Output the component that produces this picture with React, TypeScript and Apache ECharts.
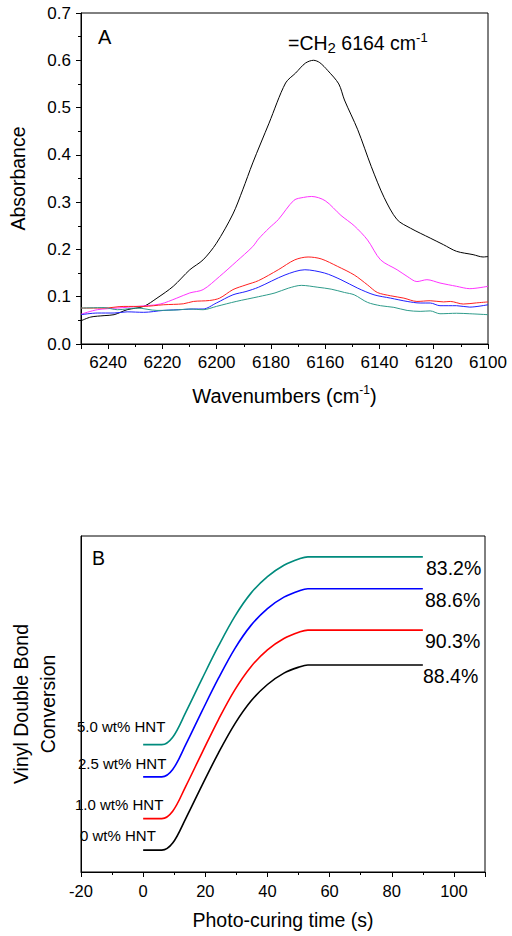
import React, { useEffect, useRef } from "react";
import * as echarts from "echarts";

// ---------- Panel A: absorbance spectra [wavenumber, absorbance] ----------
const specBlack: [number, number][] = [
  [6100, 0.185], [6101.8, 0.184], [6105.5, 0.189], [6111.6, 0.196], [6116.4, 0.21], [6121.3, 0.224],
  [6128.6, 0.245], [6133.5, 0.263], [6138.3, 0.31], [6143, 0.375], [6148, 0.453], [6152.9, 0.516],
  [6155, 0.55], [6159, 0.578], [6162, 0.595], [6164.3, 0.6], [6167.3, 0.594], [6170.9, 0.573],
  [6174.6, 0.552], [6180.7, 0.467], [6186.7, 0.383], [6190.4, 0.326], [6194, 0.275], [6200.1, 0.213],
  [6205, 0.178], [6209.9, 0.157], [6216, 0.122], [6222, 0.097], [6226.9, 0.0795], [6233, 0.0725],
  [6237.8, 0.062], [6241.5, 0.06], [6246.4, 0.057], [6250, 0.049],
];
const specMagenta: [number, number][] = [
  [6100, 0.122], [6106.7, 0.117], [6111.6, 0.122], [6117.7, 0.129], [6122.5, 0.136], [6126.2, 0.132],
  [6129.8, 0.143], [6133.5, 0.157], [6139.6, 0.178], [6144.4, 0.22], [6149.3, 0.25], [6154.2, 0.272],
  [6160, 0.303], [6165, 0.312], [6168, 0.31], [6171.5, 0.304], [6177.3, 0.263], [6180.7, 0.245],
  [6184.6, 0.222], [6186.7, 0.206], [6192.8, 0.174], [6198.9, 0.143], [6205, 0.115], [6209.9, 0.108],
  [6214.7, 0.097], [6220.8, 0.0845], [6229.3, 0.0795], [6236.6, 0.076], [6244, 0.0725], [6250, 0.063],
];
const specRed: [number, number][] = [
  [6100, 0.089], [6104.2, 0.087], [6109.1, 0.0845], [6113.9, 0.09], [6116.4, 0.089], [6121.3, 0.0915],
  [6126.2, 0.09], [6131, 0.097], [6135.9, 0.102], [6140.8, 0.109], [6144.4, 0.125], [6149.3, 0.146],
  [6155.4, 0.164], [6161.5, 0.18], [6166.3, 0.184], [6171.2, 0.178], [6177.3, 0.157], [6184.6, 0.134],
  [6189.2, 0.125], [6194, 0.115], [6198.9, 0.097], [6202.6, 0.092], [6208.6, 0.09], [6212.3, 0.085],
  [6219.6, 0.083], [6226.9, 0.0795], [6234.2, 0.0795], [6241.5, 0.076], [6250, 0.076],
];
const specBlue: [number, number][] = [
  [6100, 0.083], [6106.7, 0.078], [6111.6, 0.081], [6117.7, 0.081], [6121.3, 0.0867], [6125, 0.0867],
  [6129.8, 0.09], [6135.9, 0.097], [6142, 0.104], [6148, 0.118], [6154.2, 0.136], [6160.2, 0.15],
  [6167.5, 0.157], [6174.8, 0.146], [6184.6, 0.12], [6189.2, 0.111], [6194, 0.104], [6200.1, 0.0867],
  [6205, 0.074], [6208.6, 0.074], [6212.3, 0.073], [6219.6, 0.071], [6226.9, 0.067], [6233, 0.068],
  [6237.8, 0.0655], [6244, 0.0655], [6250, 0.062],
];
const specTeal: [number, number][] = [
  [6100, 0.062], [6106.7, 0.064], [6111.6, 0.065], [6117.7, 0.064], [6121.3, 0.07], [6125, 0.069],
  [6129.8, 0.071], [6134.7, 0.0775], [6139.6, 0.081], [6144.4, 0.088], [6149.3, 0.104], [6152.9, 0.109],
  [6157.8, 0.116], [6162.7, 0.12], [6168.8, 0.124], [6173.6, 0.118], [6178.5, 0.108], [6184.6, 0.1],
  [6192.8, 0.09], [6200.1, 0.0795], [6205, 0.0725], [6209.9, 0.074], [6214.7, 0.072], [6222, 0.071],
  [6229.3, 0.076], [6236.6, 0.0725], [6241.5, 0.077], [6250, 0.076],
];

// ---------- Panel B: conversion curves (arbitrary offset units) ----------
const cureTime = [0, 3, 6, 9.5, 13.7, 18.9, 24.2, 29.5, 34.7, 40, 45.3, 50.5, 53, 60, 90];
const conv0 = [6.5, 6.5, 6.5, 8.6, 15.9, 25.7, 35.4, 44.1, 50.9, 55.8, 59.2, 61.1, 61.6, 61.6, 61.6];
const conv10 = [15.9, 15.9, 15.9, 18.1, 25.5, 35.4, 45.3, 54.2, 61.1, 66.1, 69.5, 71.5, 72.0, 72.0, 72.0];
const conv25 = [28.3, 28.3, 28.3, 30.5, 37.9, 47.8, 57.6, 66.5, 73.4, 78.4, 81.8, 83.8, 84.3, 84.3, 84.3];
const conv50 = [37.9, 37.9, 37.9, 40.1, 47.5, 57.4, 67.2, 76.1, 83.0, 87.9, 91.3, 93.3, 93.8, 93.8, 93.8];
const seriesNames = ["0 wt% HNT", "1.0 wt% HNT", "2.5 wt% HNT", "5.0 wt% HNT"];
const finalConversion = ["88.4%", "90.3%", "88.6%", "83.2%"];

const FONT = "Liberation Sans, Arial, sans-serif";

export default function App() {
  const ref = useRef<HTMLDivElement>(null);
  useEffect(() => {
    if (!ref.current) return;
    const chart = echarts.init(ref.current, undefined, { renderer: "svg" });
    const pair = (ys: number[]) => cureTime.map((t, i) => [t, ys[i]]);
    const specLine = (name: string, data: [number, number][], color: string) => ({
      name, type: "line", xAxisIndex: 0, yAxisIndex: 0, data, smooth: 0.3, symbol: "none",
      lineStyle: { color, width: 1 }, itemStyle: { color },
    });
    const cureLine = (name: string, ys: number[], color: string) => ({
      name, type: "line", xAxisIndex: 1, yAxisIndex: 1, data: pair(ys), smooth: 0.35, symbol: "none",
      lineStyle: { color, width: 1.6 }, itemStyle: { color },
    });
    const axisCommon = {
      axisLine: { show: true, onZero: false, lineStyle: { color: "#000", width: 1 } },
      axisTick: { show: true, inside: false, length: 5, lineStyle: { color: "#000" } },
      minorTick: { show: true, splitNumber: 2, length: 3, lineStyle: { color: "#000" } },
      splitLine: { show: false },
    };
    const percentY = [665, 630, 589, 557];
    const percentX = [423, 425, 425, 426];
    const labelY = [835, 804, 763, 726];
    const labelX = [80, 75, 78, 77];
    chart.setOption({
      animation: false,
      backgroundColor: "#fff",
      textStyle: { fontFamily: FONT },
      grid: [
        { left: 77, top: 13, width: 411, height: 331, show: true, borderColor: "#000", borderWidth: 1 },
        { left: 73, top: 536, width: 412, height: 336, show: true, borderColor: "#000", borderWidth: 1 },
      ],
      xAxis: [
        {
          gridIndex: 0, type: "value", inverse: true, min: 6100, max: 6250, interval: 20,
          ...axisCommon,
          axisLabel: {
            fontSize: 17, color: "#000", margin: 10, fontFamily: FONT, showMaxLabel: false,
            formatter: (v: number) => String(v),
          },
          name: "{a|Wavenumbers (cm}{s|-1}{a|)}", nameLocation: "middle", nameGap: 40,
          nameTextStyle: {
            rich: {
              a: { fontSize: 20, color: "#000", fontFamily: FONT, lineHeight: 24 },
              s: { fontSize: 12, color: "#000", fontFamily: FONT, lineHeight: 12, verticalAlign: "top" },
            },
          },
        },
        {
          gridIndex: 1, type: "value", min: -20, max: 110, interval: 20,
          ...axisCommon,
          axisLabel: {
            fontSize: 16.5, color: "#000", margin: 10, fontFamily: FONT, showMaxLabel: false,
            formatter: (v: number) => String(v),
          },
          name: "Photo-curing time (s)", nameLocation: "middle", nameGap: 38,
          nameTextStyle: { fontSize: 19.5, color: "#000", fontFamily: FONT },
        },
      ],
      yAxis: [
        {
          gridIndex: 0, type: "value", min: 0, max: 0.7, interval: 0.1,
          ...axisCommon,
          axisLabel: { fontSize: 17, color: "#000", margin: 10, fontFamily: FONT, formatter: (v: number) => v.toFixed(1) },
          name: "Absorbance", nameLocation: "middle", nameGap: 53,
          nameTextStyle: { fontSize: 19.5, color: "#000", fontFamily: FONT },
        },
        {
          gridIndex: 1, type: "value", min: 0, max: 100,
          axisLine: { show: true, onZero: false, lineStyle: { color: "#000", width: 1 } },
          axisTick: { show: false }, axisLabel: { show: false }, splitLine: { show: false },
          name: "Vinyl Double Bond\nConversion", nameLocation: "middle", nameGap: 20,
          nameTextStyle: { fontSize: 19.5, color: "#000", fontFamily: FONT, lineHeight: 26.5 },
        },
      ],
      series: [
        specLine("black", specBlack, "#000000"),
        specLine("magenta", specMagenta, "#ff33ff"),
        specLine("red", specRed, "#ff2020"),
        specLine("blue", specBlue, "#2020ff"),
        specLine("teal", specTeal, "#2e9b8a"),
        cureLine(seriesNames[0], conv0, "#000000"),
        cureLine(seriesNames[1], conv10, "#ff0000"),
        cureLine(seriesNames[2], conv25, "#0000ff"),
        cureLine(seriesNames[3], conv50, "#008b7d"),
      ],
      graphic: [
        { type: "text", x: 98, y: 37, style: { text: "A", fontSize: 20, fontFamily: FONT, fill: "#000", verticalAlign: "middle" } },
        { type: "text", x: 92, y: 558, style: { text: "B", fontSize: 19.5, fontFamily: FONT, fill: "#000", verticalAlign: "middle" } },
        {
          type: "text", x: 288, y: 31,
          style: {
            text: "{a|=CH}{b|2}{a| 6164 cm}{s|-1}",
            fill: "#000",
            rich: {
              a: { fontSize: 19.5, fontFamily: FONT, fill: "#000", lineHeight: 24 },
              b: { fontSize: 15, fontFamily: FONT, fill: "#000", lineHeight: 15, verticalAlign: "bottom" },
              s: { fontSize: 13, fontFamily: FONT, fill: "#000", lineHeight: 13, verticalAlign: "top" },
            },
          },
        },
        ...finalConversion.map((t, i) => ({
          type: "text", x: percentX[i], y: percentY[i] + 11,
          style: { text: t, fontSize: 19.5, fontFamily: FONT, fill: "#000", verticalAlign: "middle" },
        })),
        ...seriesNames.map((t, i) => ({
          type: "text", x: labelX[i], y: labelY[i],
          style: { text: t, fontSize: 15, fontFamily: FONT, fill: "#000", verticalAlign: "middle" },
        })),
      ],
    });
    return () => chart.dispose();
  }, []);
  return (
    <div
      ref={ref}
      style={{ position: "fixed", left: 0, top: 0, width: 512, height: 936, background: "#fff" }}
    />
  );
}
